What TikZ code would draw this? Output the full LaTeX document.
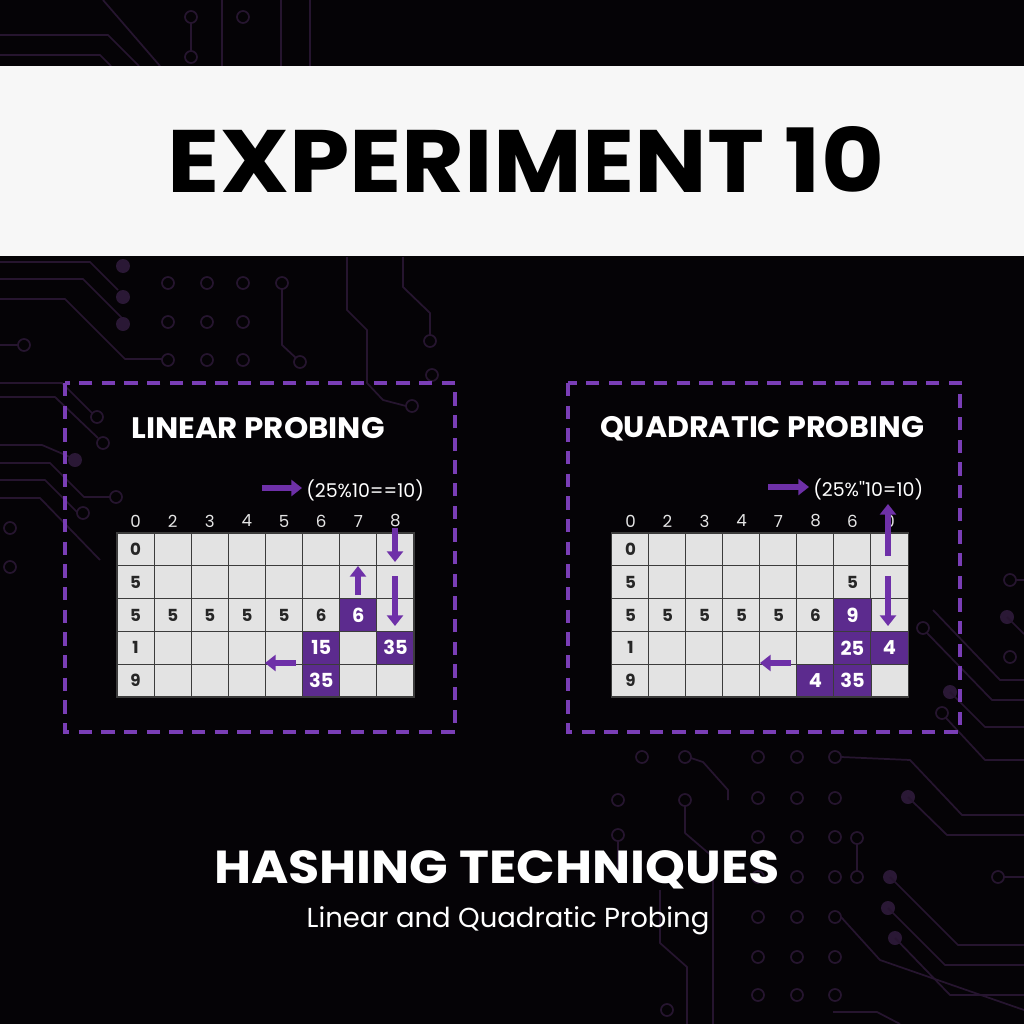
\documentclass[tikz,border=0pt]{standalone}
\usepackage{fontspec}
\setmainfont{Poppins}
\usetikzlibrary{arrows.meta}
\definecolor{bgc}{HTML}{050306}
\definecolor{bandc}{HTML}{F7F7F7}
\definecolor{dashc}{HTML}{7A3EB6}
\definecolor{pcellc}{HTML}{5C2B8E}
\definecolor{parrowc}{HTML}{6E30A8}
\definecolor{cellc}{HTML}{E3E3E3}
\definecolor{gridc}{HTML}{3C3C3C}
\definecolor{trc}{HTML}{26152F}
\definecolor{trcf}{HTML}{2A1835}
\begin{document}
\begin{tikzpicture}[x=0.75pt,y=-0.75pt,
  trace/.style={draw=trc, line width=1.3pt, line join=round},
  via/.style={draw=trc, line width=1.3pt, fill=bgc},
  pad/.style={fill=trcf},
  cellbox/.style={draw=gridc, line width=0.8pt, fill=cellc, minimum width=27.84pt, minimum height=24.6pt, inner sep=0pt, outer sep=0pt},
  pbox/.style={draw=gridc, line width=0.8pt, fill=pcellc, minimum width=27.84pt, minimum height=24.6pt, inner sep=0pt, outer sep=0pt, text=white, font=\bfseries\fontsize{14.5}{14.5}\selectfont},
  ctext/.style={text=black!85, font=\bfseries\fontsize{12.5}{12.5}\selectfont, inner sep=0pt},
  htext/.style={text=white!90!black, font=\fontsize{12.5}{12.5}\selectfont, inner sep=0pt},
  parr/.style={draw=parrowc, line width=4pt, -{Triangle[length=8pt,width=12pt]}},
  dashbox/.style={draw=dashc, line width=2.4pt, dash pattern=on 10pt off 7pt},
  lbl/.style={text=white, font=\fontsize{14.2}{14.2}\selectfont, inner sep=0pt, anchor=west}
]
\fill[bgc] (0,0) rectangle (1024,1024);
\useasboundingbox (0,0) rectangle (1024,1024);

% ---------- background circuit traces ----------
% top strip
\draw[trace] (0,35)--(108,35)--(139,66);
\draw[trace] (0,55)--(100,55)--(111,66);
\draw[trace] (103,0)--(160,66);
\draw[trace] (222,0)--(222,66);
\draw[trace] (281,0)--(281,66);
\draw[trace] (310,0)--(310,66);
\draw[trace] (191,23)--(191,51);
\draw[via] (191,17) circle[radius=6];
\draw[via] (243,17) circle[radius=6];
\draw[via] (191,57) circle[radius=6];
% left middle strip
\draw[trace] (0,279)--(83,279)--(123,319);
\draw[trace] (0,299)--(65,299)--(125,359)--(162,359);
\draw[trace] (0,262)--(90,262)--(118,290);
\fill[pad] (123,266) circle[radius=7];
\fill[pad] (123,297) circle[radius=7];
\fill[pad] (123,324) circle[radius=7];
\draw[trace] (0,345)--(18,345);
\draw[via] (24,345) circle[radius=6];
\foreach \cx in {168,207,243}{
  \foreach \cy in {283,322,360}{
    \draw[via] (\cx,\cy) circle[radius=6];
  }
}
\draw[via] (282,283) circle[radius=6];
\draw[trace] (282,289)--(282,345)--(296,358);
\draw[via] (300,362) circle[radius=6];
\draw[trace] (347,257)--(347,310)--(367,330)--(367,383)--(383,400)--(406,406);
\draw[via] (412,406) circle[radius=6];
\draw[trace] (403,257)--(403,287)--(430,313)--(430,335);
\draw[via] (430,341) circle[radius=6];
\draw[via] (432,375) circle[radius=6];
% left margin
\draw[trace] (0,383)--(62,383)--(92,413);
\draw[via] (97,417) circle[radius=6];
\draw[trace] (0,397)--(55,397)--(98,438);
\draw[via] (103,443) circle[radius=6];
\draw[trace] (0,445)--(42,445)--(70,457);
\fill[pad] (75,460) circle[radius=7];
\draw[trace] (0,463)--(50,463)--(84,497)--(110,497);
\draw[via] (116,497) circle[radius=6];
\draw[trace] (0,480)--(45,480)--(77,512);
\draw[via] (83,513) circle[radius=6];
\draw[trace] (0,498)--(40,498)--(100,560);
\draw[via] (10,528) circle[radius=6];
\draw[via] (10,567) circle[radius=6];
% right strip
\draw[via] (1010,580) circle[radius=6];
\draw[trace] (1016,580)--(1024,580);
\fill[pad] (1007,617) circle[radius=7];
\draw[trace] (1007,617)--(1024,634);
\draw[via] (1010,657) circle[radius=6];
\draw[trace] (933,610)--(1000,680)--(1024,680);
\draw[via] (923,628) circle[radius=6];
\draw[trace] (927,633)--(992,700)--(1024,700);
\fill[pad] (950,692) circle[radius=7];
\draw[trace] (950,692)--(985,727)--(1024,727);
\draw[via] (942,713) circle[radius=6];
\draw[trace] (946,718)--(985,760)--(1024,760);
% bottom right
\foreach \cx in {758,797,835}{
  \foreach \cy in {757,798,837,877,917,957,995}{
    \draw[via] (\cx,\cy) circle[radius=6];
  }
}
\draw[via] (642,757) circle[radius=6];
\draw[via] (685,757) circle[radius=6];
\draw[via] (618,800) circle[radius=6];
\draw[via] (685,800) circle[radius=6];
\draw[via] (618,835) circle[radius=6];
\draw[trace] (618,841)--(618,880);
\draw[trace] (691,758)--(703,762)--(728,790)--(728,800);
\draw[trace] (685,806)--(685,833)--(713,857)--(713,1024);
\draw[trace] (660,890)--(660,943)--(687,967)--(687,1024);
\draw[via] (667,1010) circle[radius=6];
\draw[via] (857,838) circle[radius=6];
\draw[via] (857,877) circle[radius=6];
\draw[trace] (857,844)--(857,871);
\draw[trace] (841,757)--(910,760)--(962,815)--(1024,815);
\fill[pad] (908,797) circle[radius=7];
\draw[trace] (908,797)--(947,835)--(1024,835);
\fill[pad] (890,877) circle[radius=7];
\draw[trace] (890,877)--(958,945)--(1024,945);
\fill[pad] (888,908) circle[radius=7];
\draw[trace] (888,908)--(945,965)--(1024,965);
\fill[pad] (895,938) circle[radius=7];
\draw[trace] (895,938)--(950,995)--(1024,995);
\draw[trace] (841,917)--(880,960)--(1024,1010);
\draw[via] (998,877) circle[radius=6];
\draw[trace] (1004,877)--(1024,877);
\draw[trace] (833,1012)--(877,1012)--(900,1024);

% ---------- title band ----------
\fill[bandc] (0,66) rectangle (1024,256);
\node[anchor=base, inner sep=0pt, text=black] (title) at (526,192)
  {\resizebox{537pt}{49.5pt}{\bfseries EXPERIMENT 10}};

% ---------- dashed panels ----------
\draw[dashbox] (65,383) rectangle (455,732);
\draw[dashbox] (568,383) rectangle (960,732);

\node[anchor=base, inner sep=0pt, text=white] (lhead) at (258,438)
  {\resizebox{190pt}{15.8pt}{\bfseries LINEAR PROBING}};
\node[anchor=base, inner sep=0pt, text=white] (rhead) at (762,437)
  {\resizebox{243pt}{15.8pt}{\bfseries QUADRATIC PROBING}};

% ---------- left grid ----------
\foreach \r in {0,...,4}{
  \foreach \c in {0,...,7}{
    \node[cellbox] (L-\r-\c) at ({117+37.125*(\c+0.5)},{533+32.8*(\r+0.5)}) {};
  }
}
\foreach \c/\t in {0/0,1/2,2/3,3/4,4/5,5/6,6/7,7/8}{
  \node[htext] (LH-\c) at ({117+37.125*(\c+0.5)},521) {\t};
}
\node[ctext] at (L-0-0) {0};
\node[ctext] at (L-1-0) {5};
\foreach \c/\t in {0/5,1/5,2/5,3/5,4/5,5/6}{
  \node[ctext] at (L-2-\c) {\t};
}
\node[ctext] at (L-3-0) {1};
\node[ctext] at (L-4-0) {9};
\node[pbox] (Lp1) at (L-2-6) {6};
\node[pbox] (Lp2) at (L-3-5) {15};
\node[pbox] (Lp3) at (L-3-7) {35};
\node[pbox] (Lp4) at (L-4-5) {35};

\coordinate (la1) at (395,528); \coordinate (la2) at (395,562);
\coordinate (la3) at (358,595); \coordinate (la4) at (358,566);
\coordinate (la5) at (395,576); \coordinate (la6) at (395,626);
\coordinate (la7) at (296,663); \coordinate (la8) at (265,663);
\coordinate (la9) at (262,488); \coordinate (la10) at (302,488);
\draw[parr] (la1) -- (la2);
\draw[parr] (la3) -- (la4);
\draw[parr] (la5) -- (la6);
\draw[parr] (la7) -- (la8);
\draw[parr] (la9) -- (la10);
\node[lbl] (llabel) at (306,490) {(25\%10==10)};

% ---------- right grid ----------
\foreach \r in {0,...,4}{
  \foreach \c in {0,...,7}{
    \node[cellbox] (R-\r-\c) at ({612+37*(\c+0.5)},{533+32.8*(\r+0.5)}) {};
  }
}
\foreach \c/\t in {0/0,1/2,2/3,3/4,4/7,5/8,6/6,7/0}{
  \node[htext] (RH-\c) at ({612+37*(\c+0.5)},521) {\t};
}
\node[ctext] at (R-0-0) {0};
\node[ctext] at (R-1-0) {5};
\node[ctext] at (R-1-6) {5};
\foreach \c/\t in {0/5,1/5,2/5,3/5,4/5,5/6}{
  \node[ctext] at (R-2-\c) {\t};
}
\node[ctext] at (R-3-0) {1};
\node[ctext] at (R-4-0) {9};
\node[pbox] (Rp1) at (R-2-6) {9};
\node[pbox] (Rp2) at (R-3-6) {25};
\node[pbox] (Rp3) at (R-3-7) {4};
\node[pbox] (Rp4) at (R-4-5) {4};
\node[pbox] (Rp5) at (R-4-6) {35};

\coordinate (ra1) at (888,556); \coordinate (ra2) at (888,504);
\coordinate (ra3) at (888,576); \coordinate (ra4) at (888,626);
\coordinate (ra5) at (791,663); \coordinate (ra6) at (760,663);
\coordinate (ra7) at (768,487); \coordinate (ra8) at (809,487);
\draw[parr] (ra1) -- (ra2);
\draw[parr] (ra3) -- (ra4);
\draw[parr] (ra5) -- (ra6);
\draw[parr] (ra7) -- (ra8);
\node[lbl] (rlabel) at (813,489) {(25\%\textquotesingle\textquotesingle10=10)};

% ---------- bottom text ----------
\node[anchor=base, inner sep=0pt, text=white] (sub1) at (497,883)
  {\resizebox{424pt}{24.7pt}{\bfseries HASHING TECHNIQUES}};
\node[anchor=base, inner sep=0pt, text=white] (sub2) at (508,927)
  {\resizebox{302pt}{!}{Linear and Quadratic Probing}};
\end{tikzpicture}
\end{document}
